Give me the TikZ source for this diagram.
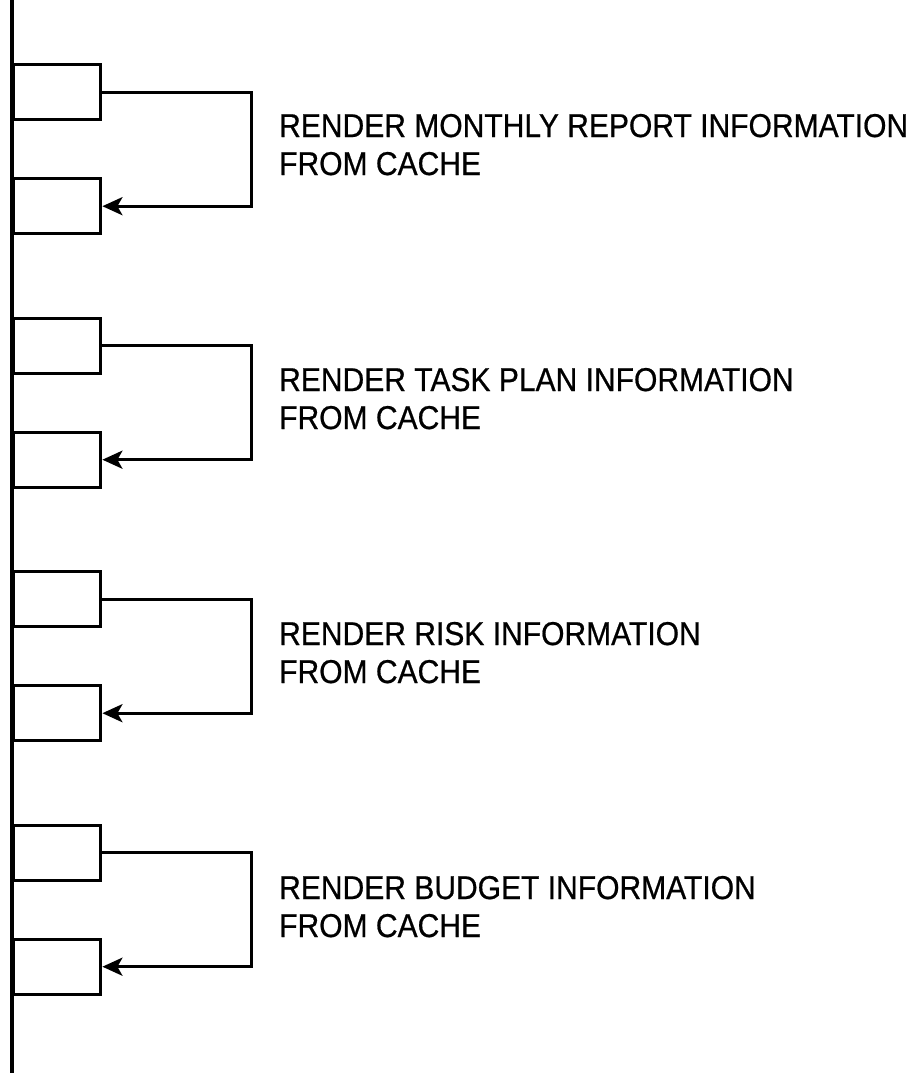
\documentclass[tikz,border=0pt]{standalone}
\usepackage{fontspec}
\setmainfont{Liberation Sans}[FakeStretch=0.91,FakeBold=0.6]
\usetikzlibrary{arrows.meta}
\begin{document}
\begin{tikzpicture}[x=1pt,y=-1pt,
  blk/.style={draw, line width=3.4pt, minimum width=87pt, minimum height=55pt, inner sep=0pt, anchor=north west},
  lbl/.style={anchor=base west, align=left, font=\fontsize{33}{38}\selectfont, inner sep=0pt},
  ret/.style={line width=3.4pt, -{Stealth[length=20pt,width=18pt,inset=5pt]}},
  axis/.style={line width=3.6pt}]
\useasboundingbox (0,0) rectangle (909,1082);
\coordinate (top) at (12,0);
\coordinate (bot) at (12,1073);
\draw[axis] (top) -- (bot);
\foreach \i/\t in {0/{RENDER MONTHLY REPORT INFORMATION},1/{RENDER TASK PLAN INFORMATION},2/{RENDER RISK INFORMATION},3/{RENDER BUDGET INFORMATION}}{
  \node[blk] (a\i) at (12,63+253.5*\i) {};
  \node[blk] (b\i) at (12,177+253.5*\i) {};
  \draw[ret] (a\i.east) -- ++(149,0) coordinate (c\i) |- (b\i.east);
  \node[lbl] (t\i) at (279,175+254*\i) {\t\\FROM CACHE};
}
\end{tikzpicture}
\end{document}
